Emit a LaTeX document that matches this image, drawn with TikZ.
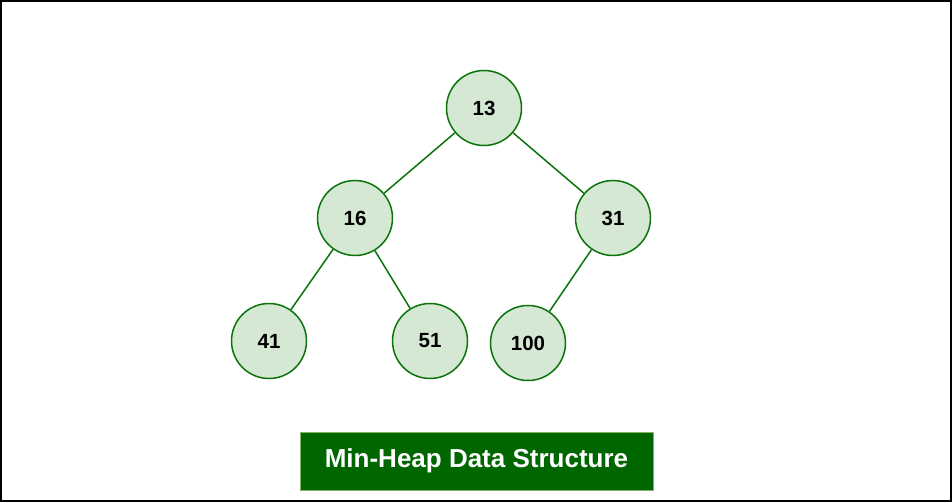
\documentclass[tikz,border=0pt]{standalone}
\usepackage{fontspec}
\setmainfont{Liberation Sans}
\definecolor{nodefill}{HTML}{D5E8D4}
\definecolor{nodeline}{HTML}{0A730A}
\definecolor{boxfill}{HTML}{006600}
\definecolor{boxline}{HTML}{82B366}
\begin{document}
\begin{tikzpicture}[x=1pt,y=-1pt,
  heapnode/.style={circle,draw=nodeline,fill=nodefill,line width=1.5pt,minimum size=75pt,inner sep=0pt,font=\fontsize{20.5}{24}\selectfont\bfseries},
  edge/.style={draw=nodeline,line width=1.5pt}]
\useasboundingbox (0,0) rectangle (952,502);
\draw[black,line width=1.6pt] (0.8,0.8) rectangle (951.2,501.2);
\node[heapnode] (n13) at (484,108) {13};
\node[heapnode] (n16) at (355,218) {16};
\node[heapnode] (n31) at (613,218) {31};
\node[heapnode] (n41) at (269,341) {41};
\node[heapnode] (n51) at (430,341) {51};
\node[heapnode] (n100) at (528,343) {100};
\draw[edge] (n13) -- (n16);
\draw[edge] (n13) -- (n31);
\draw[edge] (n16) -- (n41);
\draw[edge] (n16) -- (n51);
\draw[edge] (n31) -- (n100);
\node[draw=boxline,fill=boxfill,line width=1pt,minimum width=353pt,minimum height=58pt,text=white,font=\fontsize{26}{30}\selectfont\bfseries] (title) at (476.5,461) {Min-Heap Data Structure};
\end{tikzpicture}
\end{document}
